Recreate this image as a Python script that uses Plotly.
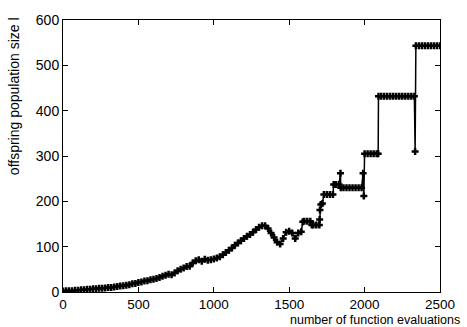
import plotly.graph_objects as go

evals = [0, 20, 40, 60, 80, 100, 120, 140, 160, 180, 200, 220, 240, 260, 280, 300,
         320, 340, 360, 380, 400, 420, 440, 460, 480, 500, 520, 540, 560, 580, 600,
         620, 640, 660, 680, 700, 720, 740, 760, 780, 800, 820, 840, 860, 880, 900,
         920, 940, 960, 980, 1000, 1020, 1040, 1060, 1080, 1100, 1120, 1140, 1160,
         1180, 1200, 1220, 1240, 1260, 1280, 1300, 1320, 1340, 1360, 1380, 1400,
         1420, 1440, 1460, 1480, 1500, 1520, 1540, 1560, 1580, 1590, 1600, 1620,
         1640, 1650, 1660, 1680, 1700, 1702, 1704, 1710, 1720, 1730, 1750, 1770,
         1790, 1795, 1810, 1830, 1840, 1842, 1860, 1880, 1900, 1920, 1940, 1960,
         1980, 1990, 1995, 2000, 2020, 2040, 2060, 2080, 2090, 2092, 2110, 2130,
         2150, 2170, 2190, 2210, 2230, 2250, 2270, 2290, 2310, 2330, 2335, 2340,
         2360, 2380, 2400, 2420, 2440, 2460, 2480, 2500]

size = [2, 3, 3, 3, 4, 4, 5, 5, 6, 6, 7, 7, 8, 8, 9, 10,
        10, 11, 12, 13, 14, 15, 16, 18, 19, 21, 22, 24, 25, 27, 28,
        30, 32, 35, 37, 39, 38, 42, 47, 50, 53, 56, 57, 64, 69, 71,
        68, 72, 70, 71, 73, 75, 78, 82, 87, 92, 97, 103, 108,
        113, 118, 123, 127, 132, 138, 143, 146, 146, 140, 130, 120,
        110, 106, 118, 132, 134, 130, 118, 130, 133, 155, 156, 156,
        156, 148, 148, 148, 148, 160, 181, 193, 195, 215, 215, 215,
        215, 237, 237, 237, 262, 230, 230, 230, 230, 230, 230, 230,
        230, 262, 212, 305, 305, 305, 305, 305, 305, 432, 432, 432,
        432, 432, 432, 432, 432, 432, 432, 432, 432, 432, 310, 543,
        543, 543, 543, 543, 543, 543, 543, 543]

x_ticks = [0, 500, 1000, 1500, 2000, 2500]
y_ticks = [0, 100, 200, 300, 400, 500, 600]

fig = go.Figure()
fig.add_trace(go.Scatter(
    x=evals, y=size, mode="lines+markers",
    line=dict(color="black", width=1.5),
    marker=dict(symbol="cross-thin", size=5, color="black",
                line=dict(color="black", width=2.5)),
    showlegend=False,
))

axis_common = dict(
    showline=True, linecolor="black", linewidth=1, mirror="ticks",
    ticks="inside", ticklen=5, tickcolor="black", showgrid=False,
    zeroline=False, tickfont=dict(family="Liberation Sans", size=14, color="black"),
)
fig.update_xaxes(range=[0, 2500], tickvals=x_ticks, ticklabelstandoff=0,
                 **{**axis_common, "tickfont": dict(family="Liberation Sans", size=13.5, color="black")})
fig.update_yaxes(range=[0, 600], tickvals=y_ticks, **axis_common)

fig.add_annotation(text="number of function evaluations", xref="paper", yref="paper",
                   x=1.058, y=-0.103, xanchor="right", yanchor="middle", showarrow=False,
                   font=dict(family="Liberation Sans", size=12.5, color="black"))
fig.add_annotation(text="offspring population size l", xref="paper", yref="paper",
                   x=-0.1293, y=0.721, xanchor="center", yanchor="middle", showarrow=False,
                   textangle=-90,
                   font=dict(family="Liberation Sans", size=14, color="black"))

fig.update_layout(
    width=467, height=327,
    margin=dict(l=63, r=25, t=20, b=35),
    plot_bgcolor="white", paper_bgcolor="white",
)
fig.write_html("out.html")
